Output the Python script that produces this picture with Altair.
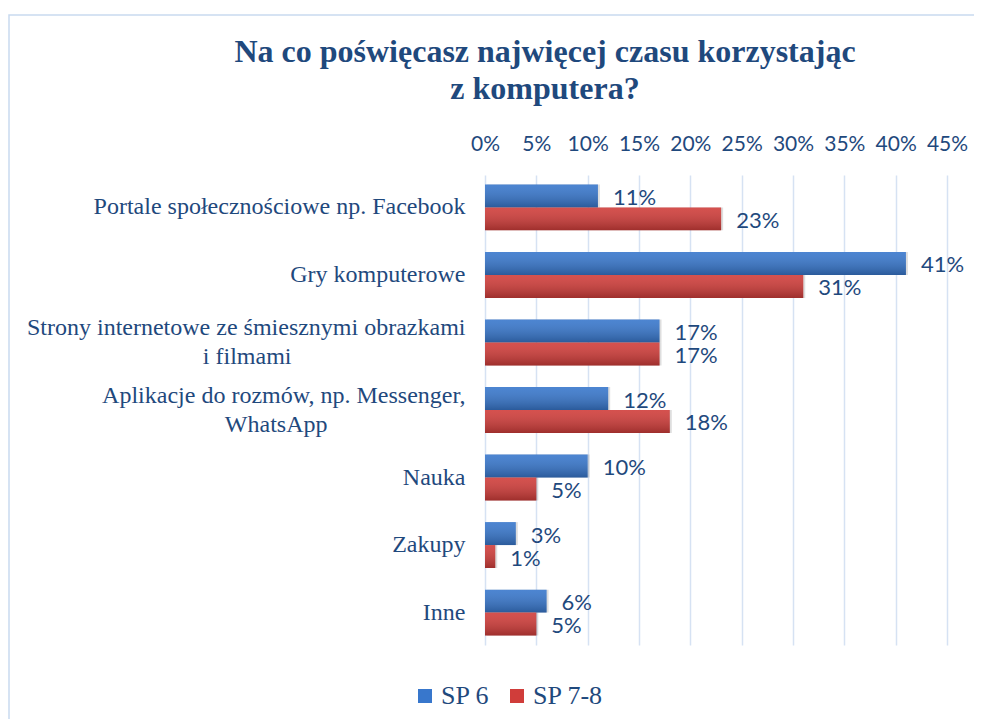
import json
import altair as alt
import pandas as pd

# ---- data ----
categories = [
    "Portale społecznościowe np. Facebook",
    "Gry komputerowe",
    "Strony internetowe ze śmiesznymi obrazkami\ni filmami",
    "Aplikacje do rozmów, np. Messenger,\nWhatsApp",
    "Nauka",
    "Zakupy",
    "Inne",
]
series = ["SP 6", "SP 7-8"]
sp6 = [11, 41, 17, 12, 10, 3, 6]
sp78 = [23, 31, 17, 18, 5, 1, 5]
x_ticks = [0, 5, 10, 15, 20, 25, 30, 35, 40, 45]
title_lines = ["Na co poświęcasz najwięcej czasu korzystając", "z komputera?"]

rows = []
for c, a, b in zip(categories, sp6, sp78):
    rows.append({"kat": c, "seria": series[0], "v": a / 100})
    rows.append({"kat": c, "seria": series[1], "v": b / 100})
df = pd.DataFrame(rows)

# ---- styling ----
TXT = "#1F497D"
BLUE = "#3877CC"
RED = "#D03D3A"
GRID = "#D6E2F3"
NB = "\u00a0"
ZW = "\u200b"  # keeps the trailing no-break spaces from being trimmed

# multi-line labels: second line centred under the first one
second_pad = {categories[2]: 29, categories[3]: 23}
parts = []
tests = []
for c in categories:
    if "\n" in c:
        l1, l2 = c.split("\n")
        key = json.dumps(l2, ensure_ascii=False).replace('"', "'")
        tests.append(f"indexof(datum.value, {key}) >= 0")
        parts.append(
            f"indexof(datum.value, {key}) >= 0 ? "
            f"[{json.dumps(l1, ensure_ascii=False)}, "
            f"{json.dumps(l2 + NB * second_pad[c] + ZW, ensure_ascii=False)}]"
        )
label_expr = " : ".join(parts) + " : datum.label"
multi_test = " || ".join(tests)

y_enc = alt.Y(
    "kat:N",
    sort=categories,
    title=None,
    scale=alt.Scale(paddingInner=0.32, paddingOuter=0.14),
    axis=alt.Axis(
        labelExpr=label_expr,
        labelFont="Liberation Serif",
        labelFontSize=24,
        labelColor=TXT,
        labelLimit=600,
        labelPadding=20,
        labelLineHeight=29,
        labelOffset={"condition": {"test": multi_test, "value": -14.5}, "value": 0},
        ticks=False,
        domain=False,
        grid=False,
    ),
)
yoff = alt.YOffset("seria:N", sort=series, scale=alt.Scale(domain=series))

x_enc = alt.X(
    "v:Q",
    title=None,
    scale=alt.Scale(domain=[0, 0.45], nice=False),
    axis=alt.Axis(
        orient="top",
        format=".0%",
        values=[t / 100 for t in x_ticks],
        labelFont="Lato",
        labelFontSize=21,
        labelColor=TXT,
        labelPadding=21,
        labelOverlap=False,
        labelFlush=False,
        ticks=False,
        domain=False,
        grid=True,
        gridColor=GRID,
        gridWidth=1.5,
    ),
)

base = alt.Chart(df).encode(y=y_enc, yOffset=yoff)

shadow = base.mark_bar(
    color="#000000", opacity=0.13, xOffset=2, yOffset=3
).encode(x=x_enc)

bars = base.mark_bar().encode(
    x="v:Q",
    color=alt.Color(
        "seria:N",
        sort=series,
        scale=alt.Scale(domain=series, range=[BLUE, RED]),
        legend=alt.Legend(
            orient="none",
            legendX=-73,
            legendY=508,
            direction="horizontal",
            title=None,
            symbolType="square",
            symbolSize=196,
            symbolStrokeWidth=0,
            symbolOpacity=1,
            labelFont="Liberation Serif",
            labelFontSize=26,
            labelColor=TXT,
            labelOffset=3,
            columnPadding=14,
            padding=0,
        ),
    ),
)

shade = base.mark_bar(
    fill=alt.LinearGradient(
        gradient="linear",
        x1=0, x2=0, y1=0, y2=1,
        stops=[
            alt.GradientStop(offset=0, color="rgba(255,255,255,0.10)"),
            alt.GradientStop(offset=1, color="rgba(0,0,0,0.24)"),
        ],
    )
).encode(x="v:Q")

labels = base.mark_text(
    align="left", baseline="middle", dx=15, dy=2, font="Lato", fontSize=22, color=TXT
).encode(x="v:Q", text=alt.Text("v:Q", format=".0%"))

frame = alt.Chart(alt.Data(values=[{"f": 1}])).mark_rect(
    fillOpacity=0, stroke="#C9DAF0", strokeWidth=1.5
).encode(
    x=alt.value(-476), x2=alt.value(700), y=alt.value(-160), y2=alt.value(700)
)

chart = (
    alt.layer(frame, shadow, bars, shade, labels)
    .properties(
        width=462,
        height=470,
        autosize=alt.AutoSizeParams(type="none"),
        padding={"left": 477, "top": 167, "right": 27, "bottom": 74},
        title=alt.TitleParams(
            text=title_lines,
            font="Liberation Serif",
            fontSize=32,
            fontWeight="bold",
            color=TXT,
            anchor="middle",
            frame="group",
            dx=-171,
            offset=-92,
            lineHeight=37,
        ),
    )
    .configure_view(stroke=None)
)

chart.save("out.html", embed_options={"renderer": "svg", "actions": False})
